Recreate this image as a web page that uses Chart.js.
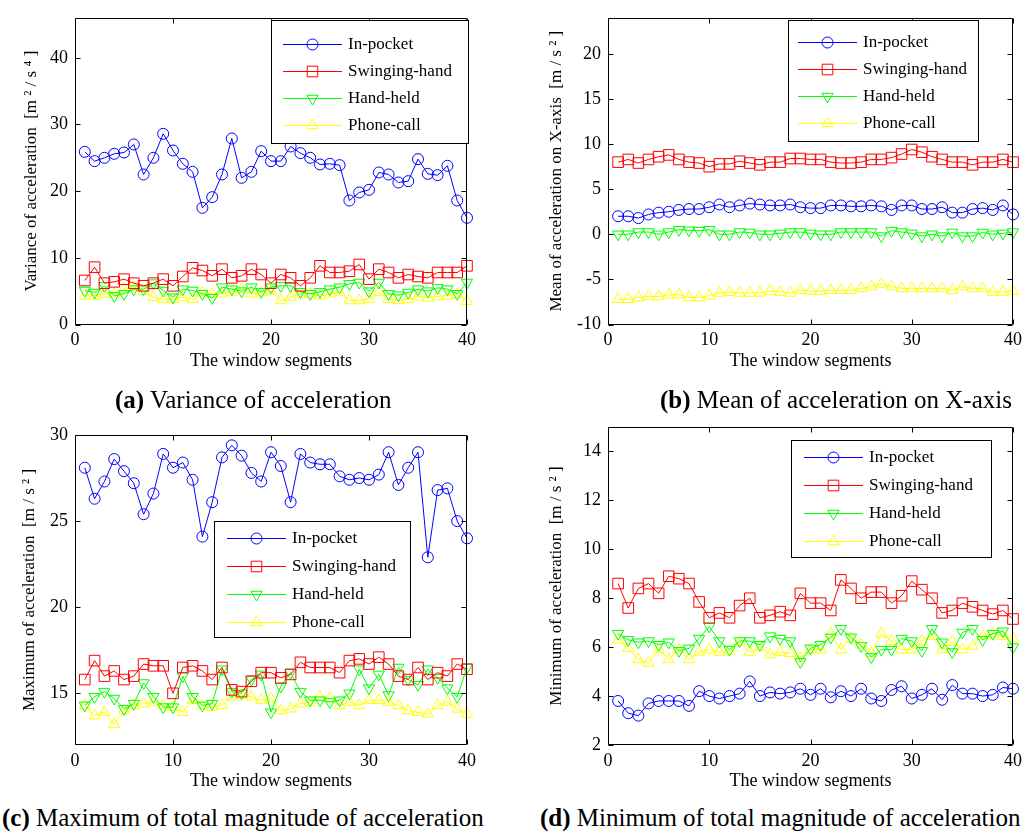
<!DOCTYPE html>
<html>
<head>
<meta charset="utf-8">
<script src="https://cdn.jsdelivr.net/npm/chart.js@4.4.1/dist/chart.umd.min.js"></script>
<style>
    body { margin: 0; background: #fff; }
    #fig { position: relative; width: 1027px; height: 835px; overflow: hidden; font-family: 'Liberation Serif', serif; }
    #fig canvas { position: absolute; }
    .cap { position: absolute; font-size: 25px; color: #000; white-space: nowrap; }
</style>
</head>
<body>
<div id="fig">
    <canvas id="chartA" width="490" height="380" style="left:0;top:0"></canvas>
    <canvas id="chartB" width="507" height="380" style="left:520px;top:0"></canvas>
    <canvas id="chartC" width="490" height="400" style="left:0;top:400px"></canvas>
    <canvas id="chartD" width="507" height="400" style="left:520px;top:400px"></canvas>
    <div class="cap" style="left:115px;top:386px"><b>(a)</b> Variance of acceleration</div>
    <div class="cap" style="left:660px;top:386px"><b>(b)</b> Mean of acceleration on X-axis</div>
    <div class="cap" style="left:2px;top:804px"><b>(c)</b> Maximum of total magnitude of acceleration</div>
    <div class="cap" style="left:540px;top:804px"><b>(d)</b> Minimum of total magnitude of acceleration</div>
</div>
<script>
// Window segment index (x axis)
const segments = Array.from({ length: 40 }, (_, i) => i + 1);
const seriesNames = ['In-pocket', 'Swinging-hand', 'Hand-held', 'Phone-call'];
const xTicks = [0, 10, 20, 30, 40];

// (a) Variance of acceleration
const varInPocket = [25.9, 24.5, 25.0, 25.6, 25.8, 27.0, 22.5, 25.0, 28.6, 26.1, 24.1, 22.9, 17.5, 19.1, 22.5, 27.9, 22.0, 22.9, 26.0, 24.5,
    24.5, 26.7, 25.7, 25.0, 24.0, 24.1, 23.9, 18.6, 19.8, 20.2, 22.8, 22.5, 21.3, 21.5, 24.8, 22.6, 22.4, 23.8, 18.6, 16.0];
const varSwinging = [6.6, 8.6, 6.2, 6.4, 6.8, 6.2, 5.8, 6.2, 6.8, 5.8, 7.2, 8.5, 8.1, 7.3, 8.3, 7.0, 7.3, 8.3, 7.5, 6.2,
    7.5, 7.0, 5.8, 7.0, 8.8, 7.8, 7.8, 8.0, 9.0, 6.8, 8.3, 7.8, 7.0, 7.5, 7.2, 7.0, 7.8, 7.8, 7.8, 8.8];
const varHandHeld = [5.1, 4.8, 5.8, 4.3, 4.6, 5.3, 5.3, 6.2, 5.1, 4.1, 5.3, 5.1, 4.6, 4.0, 5.6, 5.3, 5.0, 5.6, 4.9, 5.6,
    5.8, 5.8, 4.9, 4.6, 4.9, 5.3, 5.6, 6.1, 6.3, 5.0, 6.3, 4.6, 4.4, 4.8, 5.3, 5.0, 5.5, 5.3, 4.6, 6.3];
const varPhoneCall = [4.3, 4.3, 4.6, 4.6, 5.3, 5.6, 5.0, 4.1, 3.8, 3.8, 4.1, 3.8, 4.8, 4.6, 4.6, 4.8, 5.3, 4.6, 4.8, 5.0,
    3.6, 4.1, 4.6, 4.6, 4.3, 4.6, 4.8, 3.6, 3.6, 3.8, 4.8, 3.8, 3.6, 3.8, 4.2, 4.0, 4.2, 4.3, 4.5, 3.5];
const varTicks = [0, 10, 20, 30, 40];

// (b) Mean of acceleration on X-axis
const meanInPocket = [2.0, 2.0, 1.8, 2.2, 2.4, 2.5, 2.7, 2.8, 2.8, 3.0, 3.3, 3.0, 3.2, 3.4, 3.3, 3.2, 3.2, 3.3, 3.0, 2.9,
    2.9, 3.2, 3.2, 3.1, 3.1, 3.2, 3.1, 2.7, 3.2, 3.2, 2.8, 2.8, 3.0, 2.4, 2.4, 2.8, 2.9, 2.7, 3.2, 2.2];
const meanSwinging = [8.0, 8.3, 7.9, 8.3, 8.6, 8.8, 8.3, 8.0, 7.9, 7.5, 7.8, 7.8, 8.1, 7.9, 7.7, 8.0, 8.0, 8.4, 8.4, 8.3,
    8.3, 8.0, 7.9, 7.9, 8.0, 8.3, 8.3, 8.5, 8.9, 9.4, 9.1, 8.6, 8.3, 8.0, 8.0, 7.7, 8.0, 8.0, 8.3, 8.0];
const meanHandHeld = [0.0, 0.0, 0.25, 0.25, 0.0, 0.25, 0.5, 0.45, 0.4, 0.5, 0.0, 0.0, 0.25, 0.2, 0.0, 0.0, 0.1, 0.25, 0.25, 0.1,
    0.0, 0.0, 0.25, 0.25, 0.25, 0.25, -0.2, 0.4, 0.25, 0.1, -0.2, 0.0, -0.2, 0.2, -0.2, -0.2, 0.2, 0.0, 0.1, 0.25];
const meanPhoneCall = [-7.2, -7.2, -7.0, -6.9, -6.9, -6.7, -6.7, -7.0, -7.0, -6.8, -6.5, -6.4, -6.5, -6.5, -6.5, -6.3, -6.4, -6.5, -6.2, -6.3,
    -6.3, -6.2, -6.2, -6.2, -6.0, -5.8, -5.5, -5.8, -6.0, -6.0, -6.0, -6.0, -6.0, -6.2, -5.8, -6.0, -6.0, -6.4, -6.4, -6.3];
const meanTicks = [-10, -5, 0, 5, 10, 15, 20];

// (c) Maximum of total magnitude of acceleration
const maxInPocket = [28.1, 26.3, 27.3, 28.6, 27.9, 27.2, 25.4, 26.6, 28.9, 28.1, 28.4, 27.4, 24.1, 26.1, 28.7, 29.4, 28.8, 27.8, 27.3, 29.0,
    28.2, 26.1, 28.9, 28.4, 28.3, 28.3, 27.6, 27.4, 27.5, 27.4, 27.7, 29.0, 27.1, 28.1, 29.0, 22.9, 26.8, 26.9, 25.0, 24.0];
const maxSwinging = [15.8, 16.9, 16.0, 16.3, 15.8, 16.0, 16.7, 16.6, 16.6, 15.0, 16.5, 16.6, 16.3, 15.8, 16.5, 15.2, 15.1, 15.7, 16.2, 16.2,
    15.9, 16.1, 16.8, 16.5, 16.5, 16.5, 16.2, 16.9, 17.0, 16.7, 17.1, 16.7, 16.0, 15.8, 16.5, 15.8, 16.2, 16.0, 16.7, 16.4];
const maxHandHeld = [14.3, 14.8, 15.1, 14.7, 14.1, 14.4, 15.6, 14.8, 14.2, 14.2, 16.0, 14.8, 14.3, 14.4, 16.4, 15.1, 15.0, 15.8, 16.1, 13.9,
    15.4, 16.2, 15.1, 14.6, 14.6, 14.5, 14.6, 15.0, 16.4, 15.3, 16.1, 14.9, 16.5, 15.8, 15.5, 16.4, 15.9, 15.3, 14.8, 16.5];
const maxPhoneCall = [14.3, 13.7, 13.9, 13.2, 14.0, 14.3, 14.4, 14.5, 14.3, 14.2, 13.9, 14.6, 14.3, 14.2, 14.3, 14.8, 14.9, 14.8, 14.6, 14.7,
    14.0, 14.1, 14.4, 14.5, 14.8, 14.7, 14.3, 14.5, 14.3, 14.6, 14.6, 14.5, 14.3, 14.0, 13.9, 13.8, 14.3, 14.5, 14.1, 13.8];
const maxTicks = [15, 20, 25, 30];

// (d) Minimum of total magnitude of acceleration
const minInPocket = [3.8, 3.3, 3.2, 3.7, 3.8, 3.8, 3.8, 3.6, 4.2, 4.0, 3.9, 4.0, 4.1, 4.6, 4.0, 4.15, 4.1, 4.15, 4.3, 4.05,
    4.3, 3.95, 4.2, 4.0, 4.3, 3.9, 3.8, 4.25, 4.4, 3.9, 4.05, 4.3, 3.85, 4.45, 4.1, 4.1, 4.0, 4.05, 4.35, 4.3];
const minSwinging = [8.6, 7.6, 8.4, 8.6, 8.2, 8.9, 8.8, 8.6, 7.85, 7.2, 7.4, 7.2, 7.7, 8.0, 7.2, 7.3, 7.45, 7.3, 8.2, 7.8,
    7.8, 7.5, 8.75, 8.4, 8.0, 8.25, 8.25, 7.8, 8.1, 8.7, 8.35, 8.0, 7.4, 7.5, 7.8, 7.65, 7.5, 7.35, 7.5, 7.15];
const minHandHeld = [6.55, 6.3, 6.2, 6.25, 6.1, 6.2, 5.85, 5.95, 6.35, 6.85, 6.25, 5.9, 6.25, 6.25, 6.1, 6.45, 6.35, 6.25, 5.4, 5.95,
    6.1, 6.4, 6.75, 6.4, 6.05, 5.6, 5.9, 5.9, 6.35, 6.25, 5.85, 6.75, 6.2, 5.8, 6.6, 6.75, 6.3, 6.55, 6.65, 6.0];
const minPhoneCall = [6.3, 5.95, 5.5, 5.35, 5.9, 5.5, 5.9, 5.5, 5.8, 5.9, 5.8, 5.85, 6.2, 5.8, 6.0, 5.7, 5.8, 5.75, 5.55, 5.9,
    5.9, 6.55, 5.9, 6.35, 6.1, 5.75, 6.55, 6.25, 5.9, 5.9, 6.25, 6.45, 5.9, 6.2, 5.9, 6.05, 6.45, 6.55, 6.45, 6.35];
const minTicks = [2, 4, 6, 8, 10, 12, 14];

const FONT = 'Liberation Serif';
const seriesStyles = [
    { color: '#0000ff', pointStyle: 'circle', radius: 5.5, rotation: 0 },
    { color: '#ff0000', pointStyle: 'rect', radius: 7.5, rotation: 0 },
    { color: '#00ff00', pointStyle: 'triangle', radius: 6.5, rotation: 180 },
    { color: '#ffff00', pointStyle: 'triangle', radius: 6.5, rotation: 0 }
];

// Box + inward tick marks on all four sides (MATLAB style)
const frameTicks = {
    id: 'frameTicks',
    afterDraw(chart) {
        const { ctx, chartArea: a, scales: { x, y } } = chart;
        const l = Math.round(a.left) + 0.5, r = Math.round(a.right) - 0.5;
        const t = Math.round(a.top) + 0.5, b = Math.round(a.bottom) - 0.5;
        ctx.save();
        ctx.strokeStyle = '#000';
        ctx.lineWidth = 1;
        ctx.beginPath();
        ctx.rect(l, t, r - l, b - t);
        x.ticks.forEach(tk => {
            const px = Math.round(x.getPixelForValue(tk.value)) + 0.5;
            ctx.moveTo(px, b); ctx.lineTo(px, b - 5);
            ctx.moveTo(px, t); ctx.lineTo(px, t + 5);
        });
        y.ticks.forEach(tk => {
            const py = Math.round(y.getPixelForValue(tk.value)) + 0.5;
            ctx.moveTo(l, py); ctx.lineTo(l + 5, py);
            ctx.moveTo(r, py); ctx.lineTo(r - 5, py);
        });
        ctx.stroke();
        ctx.restore();
    }
};

// Legend drawn inside the plot, boxed
const boxLegend = {
    id: 'boxLegend',
    afterDraw(chart, args, opts) {
        const { ctx, chartArea: a } = chart;
        const bx = a.left + opts.x, by = a.top + opts.y;
        ctx.save();
        ctx.fillStyle = '#fff';
        ctx.fillRect(bx, by, opts.w, opts.h);
        ctx.strokeStyle = '#000';
        ctx.lineWidth = 1;
        ctx.strokeRect(Math.round(bx) + 0.5, Math.round(by) + 0.5, opts.w, opts.h);
        chart.data.datasets.forEach((ds, i) => {
            const st = seriesStyles[i];
            const ry = Math.round(by + opts.first + i * opts.step) + 0.5;
            const x0 = bx + opts.lineStart, x1 = x0 + opts.lineLen;
            ctx.strokeStyle = st.color;
            ctx.beginPath();
            ctx.moveTo(x0, ry); ctx.lineTo(x1, ry);
            ctx.stroke();
            ctx.fillStyle = 'rgba(0,0,0,0)';
            Chart.helpers.drawPoint(ctx, { pointStyle: st.pointStyle, radius: st.radius, rotation: st.rotation, borderWidth: 1 }, (x0 + x1) / 2, ry);
            ctx.fillStyle = '#000';
            ctx.font = `17px '${FONT}'`;
            ctx.textBaseline = 'middle';
            ctx.fillText(ds.label, x1 + 6, ry);
        });
        ctx.restore();
    }
};

const makePanel = (id, cfg) => {
    const datasets = cfg.series.map((vals, i) => ({
        label: seriesNames[i],
        data: segments.map((s, k) => ({ x: s, y: vals[k] })),
        borderColor: seriesStyles[i].color,
        backgroundColor: 'rgba(0,0,0,0)',
        borderWidth: 1,
        pointStyle: seriesStyles[i].pointStyle,
        pointRadius: seriesStyles[i].radius,
        pointRotation: seriesStyles[i].rotation,
        pointBorderWidth: 1,
        pointBorderColor: seriesStyles[i].color,
        pointBackgroundColor: 'rgba(0,0,0,0)',
        tension: 0,
        clip: false
    }));

    new Chart(document.getElementById(id), {
        type: 'line',
        data: { datasets },
        options: {
            responsive: false,
            animation: false,
            events: [],
            layout: { padding: { left: 0, right: cfg.padRight, top: cfg.padTop, bottom: 0 } },
            plugins: {
                legend: { display: false },
                tooltip: { enabled: false },
                boxLegend: cfg.legend
            },
            scales: {
                x: {
                    type: 'linear',
                    min: 0,
                    max: 40,
                    afterBuildTicks: s => { s.ticks = xTicks.map(v => ({ value: v })); },
                    afterFit: s => { s.height = cfg.xHeight; },
                    grid: { display: false, drawTicks: false },
                    border: { display: false },
                    ticks: { color: '#000', font: { family: FONT, size: 18 }, padding: 5, maxRotation: 0 },
                    title: { display: true, text: 'The window segments', color: '#000', font: { family: FONT, size: 18 }, padding: { top: 0, bottom: 8 } }
                },
                y: {
                    type: 'linear',
                    min: cfg.yMin,
                    max: cfg.yMax,
                    afterBuildTicks: s => { s.ticks = cfg.yTicks.map(v => ({ value: v })); },
                    afterFit: s => { s.width = cfg.yWidth; },
                    grid: { display: false, drawTicks: false },
                    border: { display: false },
                    ticks: { color: '#000', font: { family: FONT, size: 18 }, padding: 7 },
                    title: { display: true, text: cfg.yTitle, color: '#000', font: { family: FONT, size: 17 }, padding: { top: cfg.yTitlePad, bottom: 0 } }
                }
            }
        },
        plugins: [frameTicks, boxLegend]
    });
};

document.addEventListener('DOMContentLoaded', () => {
    makePanel('chartA', {
        series: [varInPocket, varSwinging, varHandHeld, varPhoneCall],
        yMin: 0, yMax: 46, yTicks: varTicks,
        yTitle: 'Variance of acceleration  [m ² / s ⁴ ]',
        yWidth: 75, yTitlePad: 21, padRight: 23, padTop: 12, xHeight: 55.5,
        legend: { x: 196, y: 2, w: 197, h: 123, first: 24, step: 27, lineStart: 12, lineLen: 59 }
    });
    makePanel('chartB', {
        series: [meanInPocket, meanSwinging, meanHandHeld, meanPhoneCall],
        yMin: -10, yMax: 24, yTicks: meanTicks,
        yTitle: 'Mean of acceleration on X-axis  [m / s ² ]',
        yWidth: 88, yTitlePad: 26, padRight: 8, padTop: 12, xHeight: 55.5,
        legend: { x: 180, y: 2, w: 190, h: 121, first: 22, step: 27, lineStart: 10, lineLen: 59 }
    });
    makePanel('chartC', {
        series: [maxInPocket, maxSwinging, maxHandHeld, maxPhoneCall],
        yMin: 12, yMax: 30, yTicks: maxTicks,
        yTitle: 'Maximum of acceleration  [m / s ² ]',
        yWidth: 75, yTitlePad: 19, padRight: 23, padTop: 35, xHeight: 55,
        legend: { x: 139, y: 86, w: 196, h: 116, first: 17, step: 28, lineStart: 13, lineLen: 59 }
    });
    makePanel('chartD', {
        series: [minInPocket, minSwinging, minHandHeld, minPhoneCall],
        yMin: 2, yMax: 15, yTicks: minTicks,
        yTitle: 'Minimum of acceleration  [m / s ² ]',
        yWidth: 88, yTitlePad: 26, padRight: 8, padTop: 27, xHeight: 55,
        legend: { x: 183, y: 13, w: 200, h: 117, first: 17, step: 28, lineStart: 13, lineLen: 59 }
    });
});
</script>
</body>
</html>
